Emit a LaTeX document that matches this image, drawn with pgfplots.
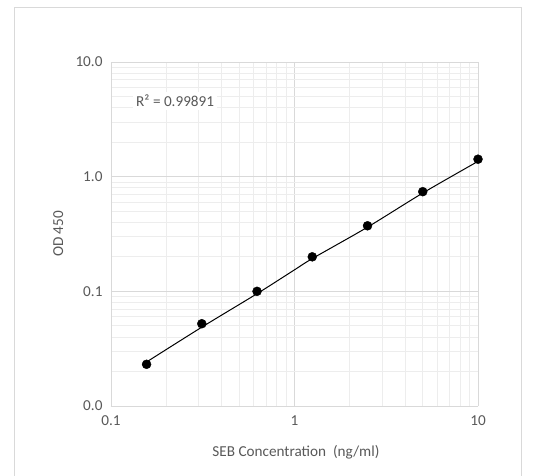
\documentclass[border=0pt]{standalone}
\usepackage{pgfplots}
\pgfplotsset{compat=1.18}
\usepackage{fontspec}
\setmainfont{Carlito}
\definecolor{txt}{HTML}{595959}
\definecolor{gridmaj}{HTML}{D9D9D9}
\definecolor{gridmin}{HTML}{EDEDED}
\definecolor{border}{HTML}{D9D9D9}
\begin{document}
\begin{tikzpicture}[x=1pt,y=1pt]
\path[use as bounding box] (0,0) rectangle (535,476);
\fill[white] (0,0) rectangle (535,476);
\draw[border,line width=0.8pt] (14,-2) -- (14,469) -- (521,469) -- (521,-2);
\begin{axis}[
  at={(111pt,70pt)}, anchor=south west,
  width=367pt, height=344pt, scale only axis,
  xmode=log, ymode=log,
  xmin=0.1, xmax=10, ymin=0.01, ymax=10,
  xtick={0.1,1,10}, xticklabels={0.1,1,10},
  ytick={0.01,0.1,1,10}, yticklabels={0.0,0.1,1.0,10.0},
  minor xtick={0.2,0.3,0.4,0.5,0.6,0.7,0.8,0.9,2,3,4,5,6,7,8,9},
  minor ytick={0.02,0.03,0.04,0.05,0.06,0.07,0.08,0.09,0.2,0.3,0.4,0.5,0.6,0.7,0.8,0.9,2,3,4,5,6,7,8,9},
  grid=both,
  major grid style={gridmaj, line width=0.8pt},
  minor grid style={gridmin, line width=0.8pt},
  major tick length=0pt, minor tick length=0pt,
  axis x line*=bottom, axis y line*=left,
  axis line style={draw=gridmaj, line width=0.8pt, -},
  tick label style={font=\fontsize{15.2}{17}\selectfont, text=txt},
  /pgf/number format/assume math mode=true,
  yticklabel style={xshift=-5pt},
  xticklabel style={yshift=-6pt},
  xlabel={SEB Concentration\ \ (ng/ml)},
  ylabel={OD 450},
  label style={font=\fontsize{15.2}{17}\selectfont, text=txt},
  xlabel style={at={(axis description cs:0.504,-0.134)}, anchor=center},
  ylabel style={at={(axis description cs:-0.144,0.5)}, anchor=center},
  clip=false,
]
\addplot[black, line width=1pt, smooth, no marks] coordinates {
  (0.15625,0.0242) (0.3125,0.0487) (0.625,0.0954) (1,0.154) (1.25,0.193)
  (2.5,0.363) (5,0.72) (10,1.36)
};
\addplot[only marks, mark=*, mark size=4.5pt, black] coordinates {
  (0.15625,0.0231) (0.3125,0.0522) (0.625,0.100) (1.25,0.200)
  (2.5,0.373) (5,0.740) (10,1.42)
};
\node[anchor=west, fill=white, inner sep=3pt, text=txt, font=\fontsize{15.2}{17}\selectfont]
  at (rel axis cs:0.06,0.887) {R² = 0.99891};
\end{axis}
\end{tikzpicture}
\end{document}
